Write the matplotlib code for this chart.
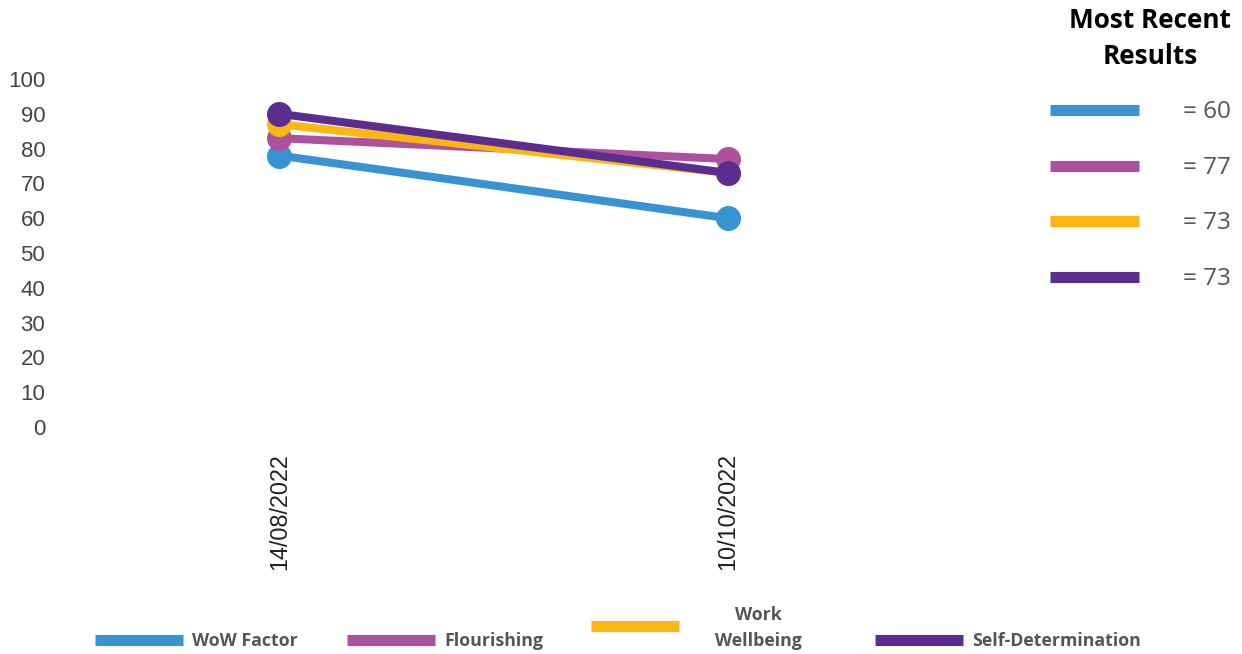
import matplotlib.pyplot as plt
from matplotlib.lines import Line2D

# data
dates = ['14/08/2022', '10/10/2022']
names = ['WoW Factor', 'Flourishing', 'Work Wellbeing', 'Self-Determination']
wow = [78, 60]
flour = [83, 77]
workwb = [87, 73]
selfdet = [90, 73]
colors = ['#3793d2', '#ac519e', '#fbb614', '#5b2d8e']
yticks = [0, 10, 20, 30, 40, 50, 60, 70, 80, 90, 100]

series = [wow, flour, workwb, selfdet]

W, H = 1242, 654
fig = plt.figure(figsize=(W / 100, H / 100), dpi=100)
ax = fig.add_axes([55 / W, (H - 427) / H, (952 - 55) / W, (427 - 79) / H])

xs = range(len(dates))
for vals, c in zip(series, colors):
    ax.plot(xs, vals, color=c, lw=5.8, marker='o', markersize=17,
            solid_capstyle='round')

ax.set_xlim(-0.5, 1.5)
ax.set_ylim(0, 100)
ax.set_yticks(yticks)
ax.set_yticklabels([str(v) for v in yticks], fontsize=16,
                   family='Liberation Sans', color='#444444')
ax.set_xticks(list(xs))
ax.set_xticklabels(dates, rotation=90, fontsize=16.8, family='Liberation Sans',
                   color='#222222', va='top')
ax.tick_params(axis='both', length=0)
ax.tick_params(axis='x', pad=19)
ax.tick_params(axis='y', pad=7)
for s in ax.spines.values():
    s.set_visible(False)

# right legend: most recent results
fig.text(1150 / W, 1 - 21 / H, 'Most Recent', ha='center', va='center',
         fontsize=18.8, fontweight='bold', family='Open Sans', color='black')
fig.text(1150 / W, 1 - 57 / H, 'Results', ha='center', va='center',
         fontsize=18.8, fontweight='bold', family='Open Sans', color='black')
rows = [110, 166, 221, 277]
for vals, c, y in zip(series, colors, rows):
    fig.add_artist(Line2D([1050 / W, 1139 / W], [1 - y / H, 1 - y / H],
                          color=c, lw=8, solid_capstyle='butt'))
    fig.text(1231 / W, 1 - (y + 2) / H, '= %d' % vals[-1], ha='right', va='center',
             fontsize=17.5, family='Open Sans', color='#555555')

# bottom legend
px = [95, 347, 591, 875]
py = [640, 640, 626, 640]
for c, x, y in zip(colors, px, py):
    fig.add_artist(Line2D([x / W, (x + 88) / W], [1 - y / H, 1 - y / H],
                          color=c, lw=8, solid_capstyle='butt'))
kw = dict(fontsize=12.8, fontweight='bold', family='Open Sans', color='#555555',
          va='center')
fig.text(192 / W, 1 - 641 / H, names[0], ha='left', **kw)
fig.text(444 / W, 1 - 641 / H, names[1], ha='left', **kw)
fig.text(758 / W, 1 - 615 / H, 'Work', ha='center', **kw)
fig.text(758 / W, 1 - 641 / H, 'Wellbeing', ha='center', **kw)
fig.text(972 / W, 1 - 641 / H, names[3], ha='left', **kw)

fig.savefig('out.png', dpi=100)
